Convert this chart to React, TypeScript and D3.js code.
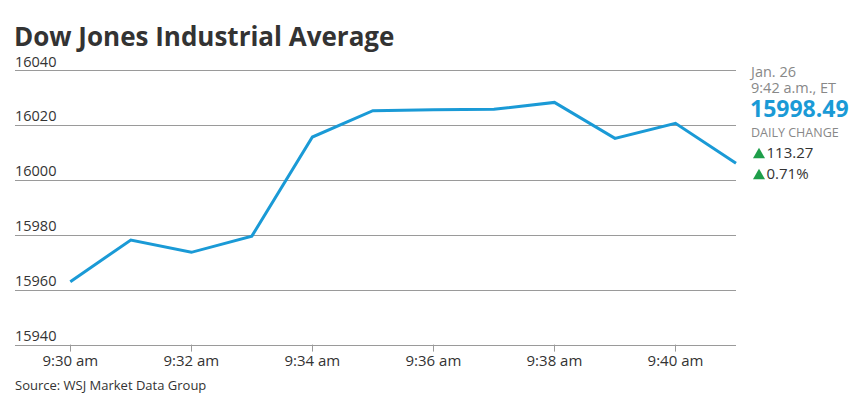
import React from "react";
import * as d3 from "d3";

const times = ["9:30", "9:31", "9:32", "9:33", "9:34", "9:35", "9:36", "9:37", "9:38", "9:39", "9:40", "9:41"];
const values = [15962.9, 15978.1, 15973.6, 15979.5, 16015.6, 16025.2, 16025.5, 16025.7, 16028.2, 16015.1, 16020.6, 16006.0];
const yTicks = [15940, 15960, 15980, 16000, 16020, 16040];
const xTickLabels = ["9:30 am", "9:32 am", "9:34 am", "9:36 am", "9:38 am", "9:40 am"];
const xTickIdx = [0, 2, 4, 6, 8, 10];

const title = "Dow Jones Industrial Average";
const source = "Source: WSJ Market Data Group";
const infoDate = "Jan. 26";
const infoTime = "9:42 a.m., ET";
const infoValue = "15998.49";
const infoLabel = "DAILY CHANGE";
const infoChange = ["113.27", "0.71%"];

const FONT = "'Open Sans', sans-serif";

export default function App() {
  const W = 865, H = 410;
  const x = d3.scaleLinear().domain([0, times.length - 1]).range([70.3, 736]);
  const y = d3.scaleLinear().domain([15940, 16040]).range([344.6, 70]);
  const line = d3.line<number>().x((_, i) => x(i)).y((d) => y(d));
  const gridX0 = 15, gridX1 = 736;

  return (
    <svg width={W} height={H} style={{ position: "absolute", left: 0, top: 0, background: "#fff" }}>
      <text x={14} y={46} fontFamily={FONT} fontWeight={700} fontSize={26} fill="#333">{title}</text>
      {yTicks.map((t) => (
        <g key={t}>
          <line x1={gridX0} x2={gridX1} y1={Math.round(y(t)) + 0.5} y2={Math.round(y(t)) + 0.5} stroke="#9a9a9a" strokeWidth={1} />
          <text x={15} y={y(t) - 3.5} fontFamily={FONT} fontSize={14.5} fill="#333">{t}</text>
        </g>
      ))}
      {xTickIdx.map((idx, k) => (
        <g key={idx}>
          <line x1={Math.round(x(idx)) + 0.5} x2={Math.round(x(idx)) + 0.5} y1={y(15940)} y2={y(15940) + 7} stroke="#9a9a9a" />
          <text x={x(idx)} y={366} textAnchor="middle" fontFamily={FONT} fontSize={15} fill="#333">{xTickLabels[k]}</text>
        </g>
      ))}
      <path d={line(values) || ""} fill="none" stroke="#1a9ad6" strokeWidth={3} strokeLinejoin="miter" />
      <text x={15} y={390} fontFamily={FONT} fontSize={13} fill="#333">{source}</text>

      <text x={751} y={77} fontFamily={FONT} fontSize={14.5} fill="#888">{infoDate}</text>
      <text x={751} y={93} fontFamily={FONT} fontSize={14.5} fill="#888">{infoTime}</text>
      <text x={750} y={116.5} fontFamily={FONT} fontWeight={700} fontSize={23} fill="#1a9ad6">{infoValue}</text>
      <text x={751} y={137} fontFamily={FONT} fontSize={12.5} fill="#888">{infoLabel}</text>
      {infoChange.map((c, i) => (
        <g key={c} transform={`translate(753, ${158.3 + i * 21})`}>
          <path d="M0,0 L12,0 L6,-10.5 Z" fill="#1e9e4a" />
          <text x={13.5} y={0} fontFamily={FONT} fontSize={15} fill="#333">{c}</text>
        </g>
      ))}
    </svg>
  );
}
